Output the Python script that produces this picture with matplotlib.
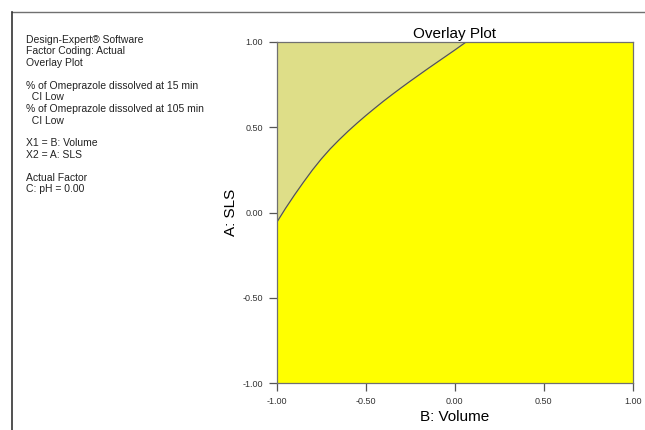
import numpy as np
import matplotlib
matplotlib.use("Agg")
import matplotlib.pyplot as plt
from matplotlib.lines import Line2D

plt.rcParams['font.family'] = ['Liberation Sans', 'DejaVu Sans']

# boundary between the two overlay regions (B: Volume -> A: SLS)
volume = [-1.000, -0.950, -0.900, -0.850, -0.800, -0.750, -0.700, -0.650,
          -0.600, -0.550, -0.500, -0.450, -0.400, -0.350, -0.300, -0.250,
          -0.200, -0.150, -0.100, -0.050, 0.000, 0.066]
sls = [-0.058, 0.025, 0.103, 0.177, 0.248, 0.313, 0.372, 0.425,
       0.475, 0.522, 0.567, 0.610, 0.652, 0.692, 0.731, 0.769,
       0.806, 0.843, 0.879, 0.915, 0.951, 1.000]

ticks = [-1.00, -0.50, 0.00, 0.50, 1.00]
tick_labels = ["-1.00", "-0.50", "0.00", "0.50", "1.00"]

info_lines = [
    "Design-Expert® Software",
    "Factor Coding: Actual",
    "Overlay Plot",
    "",
    "% of Omeprazole dissolved at 15 min",
    "  CI Low",
    "% of Omeprazole dissolved at 105 min",
    "  CI Low",
    "",
    "X1 = B: Volume",
    "X2 = A: SLS",
    "",
    "Actual Factor",
    "C: pH = 0.00",
]

fig = plt.figure(figsize=(6.45, 4.3), dpi=100)
ax = fig.add_axes([0.429, 0.1086, 0.552, 0.7944])

# whole design space is yellow, the region above the boundary is olive
ax.fill_between([-1, 1], -1, 1, color="#FFFF00", lw=0)
bx = np.array(volume + [1.0])
by = np.array(sls + [1.0])
ax.fill_between(bx, by, 1, color="#DEDE88", lw=0)
ax.plot(volume, sls, color="#555555", lw=0.9)

ax.set_xlim(-1, 1)
ax.set_ylim(-1, 1)
ax.set_xticks(ticks)
ax.set_xticklabels(tick_labels)
ax.set_yticks(ticks)
ax.set_yticklabels(tick_labels)
ax.tick_params(length=6, width=0.9, color="#555555", labelsize=6.5,
               labelcolor="#333333", pad=4)
for s in ax.spines.values():
    s.set_color("#707070")
    s.set_linewidth(0.9)

ax.set_title("Overlay Plot", fontsize=11, pad=3)
ax.set_xlabel("B: Volume", fontsize=11, labelpad=3)
ax.set_ylabel("A: SLS", fontsize=11, labelpad=3)

y0 = 1 - 40 / 430
for i, t in enumerate(info_lines):
    fig.text(26 / 645, y0 - i * 11.5 / 430, t, fontsize=7.5,
             color="#222222", va="center", ha="left")

# frame lines around the page
fig.add_artist(Line2D([12 / 645, 1], [1 - 12 / 430, 1 - 12 / 430],
                      color="#707070", lw=1.0))
fig.add_artist(Line2D([12 / 645, 12 / 645], [0, 1 - 12 / 430],
                      color="#333333", lw=1.2))

fig.savefig("out.png", dpi=100)
